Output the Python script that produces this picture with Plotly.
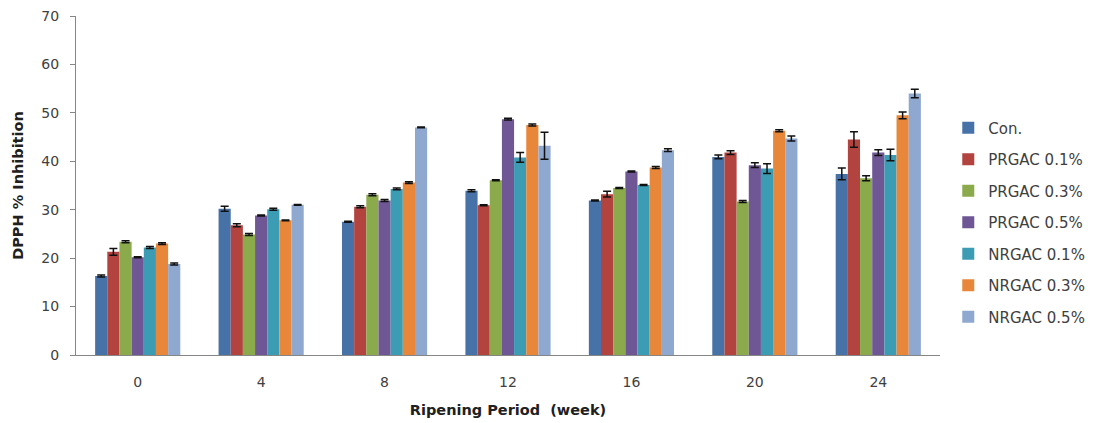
import plotly.graph_objects as go

# Ripening period (weeks)
weeks = ["0", "4", "8", "12", "16", "20", "24"]

series_names = ["Con.", "PRGAC 0.1%", "PRGAC 0.3%", "PRGAC 0.5%",
                "NRGAC 0.1%", "NRGAC 0.3%", "NRGAC 0.5%"]

# DPPH radical scavenging activity (% inhibition) per treatment
con      = [16.3, 30.2, 27.5, 33.9, 31.9, 40.9, 37.4]
prgac_01 = [21.3, 26.8, 30.6, 30.9, 33.2, 41.8, 44.5]
prgac_03 = [23.4, 24.9, 33.1, 36.1, 34.5, 31.7, 36.5]
prgac_05 = [20.2, 28.8, 31.9, 48.7, 37.9, 39.2, 41.8]
nrgac_01 = [22.2, 30.1, 34.3, 40.8, 35.1, 38.5, 41.3]
nrgac_03 = [23.0, 27.8, 35.6, 47.5, 38.7, 46.3, 49.5]
nrgac_05 = [18.8, 31.0, 47.0, 43.2, 42.3, 44.7, 54.0]

# Standard deviations
con_sd      = [0.2, 0.5, 0.1, 0.2, 0.1, 0.4, 1.2]
prgac_01_sd = [0.7, 0.3, 0.2, 0.1, 0.6, 0.4, 1.6]
prgac_03_sd = [0.2, 0.2, 0.2, 0.1, 0.1, 0.2, 0.5]
prgac_05_sd = [0.1, 0.1, 0.2, 0.2, 0.1, 0.5, 0.6]
nrgac_01_sd = [0.2, 0.2, 0.2, 1.0, 0.1, 1.0, 1.2]
nrgac_03_sd = [0.2, 0.1, 0.2, 0.2, 0.2, 0.2, 0.7]
nrgac_05_sd = [0.2, 0.1, 0.1, 2.8, 0.3, 0.5, 0.9]

colors = ["#4672A8", "#B2433F", "#8BAA4C", "#6F5796",
          "#3C9CB4", "#E8863A", "#8EA8D0"]

values = [con, prgac_01, prgac_03, prgac_05, nrgac_01, nrgac_03, nrgac_05]
errors = [con_sd, prgac_01_sd, prgac_03_sd, prgac_05_sd,
          nrgac_01_sd, nrgac_03_sd, nrgac_05_sd]

fig = go.Figure()
for name, vals, sd, col in zip(series_names, values, errors, colors):
    fig.add_trace(go.Bar(
        x=weeks, y=vals, name=name, legendgroup=name,
        marker=dict(color=col, line=dict(width=0)),
        error_y=dict(type="data", array=sd, visible=True,
                     color="#111111", thickness=1.5, width=4),
    ))

font_family = "DejaVu Sans, Verdana, sans-serif"

fig.update_layout(
    width=1095, height=423,
    margin=dict(l=76, r=155, t=16, b=68, autoexpand=False),
    paper_bgcolor="white", plot_bgcolor="white",
    barmode="group", bargap=0.31, bargroupgap=0,
    font=dict(family=font_family, size=13, color="#404040"),
    showlegend=True,
    legend=dict(xref="container", yref="container",
                x=0.866, y=0.474, xanchor="left", yanchor="middle",
                font=dict(size=15, color="#404040"),
                tracegroupgap=9, itemwidth=30, maxheight=400,
                bgcolor="rgba(0,0,0,0)"),
    xaxis=dict(
        showline=True, linecolor="#868686", linewidth=1,
        ticks="", showgrid=False, ticklabelstandoff=14,
        tickfont=dict(size=14, color="#404040"),
        title=dict(text="<b>Ripening Period  (week)</b>",
                   font=dict(size=14.5, color="#202020"), standoff=16),
    ),
    yaxis=dict(
        range=[0, 70], dtick=10,
        showline=True, linecolor="#868686", linewidth=1,
        ticks="outside", ticklen=5, tickcolor="#868686",
        ticklabelstandoff=8,
        showgrid=False, zeroline=False,
        tickfont=dict(size=14, color="#404040"),
        title=dict(text="<b>DPPH % Inhibition</b>",
                   font=dict(size=14.5, color="#202020"), standoff=14),
    ),
)

fig.write_html("out.html")
